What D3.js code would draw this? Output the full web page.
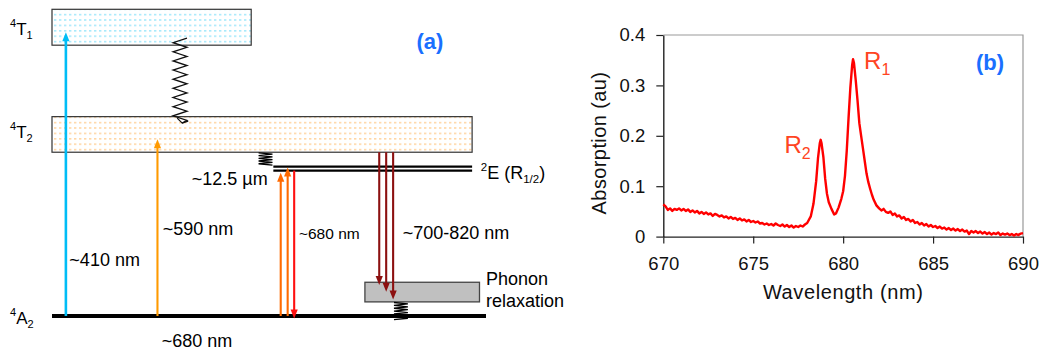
<!DOCTYPE html>
<html><head><meta charset="utf-8">
<script src="https://cdn.jsdelivr.net/npm/d3@7"></script>
<style>body{margin:0;background:#fff}svg{display:block;font-family:"Liberation Sans",Arial,Helvetica,sans-serif}</style>
</head><body><svg id="c" width="1041" height="350"></svg>
<script>
// ===== Panel (b): absorption spectrum =====
const wavelength = [670.000,670.125,670.250,670.375,670.500,670.625,670.750,670.875,671.000,671.125,671.250,671.375,671.500,671.625,671.750,671.875,672.000,672.125,672.250,672.375,672.500,672.625,672.750,672.875,673.000,673.125,673.250,673.375,673.500,673.625,673.750,673.875,674.000,674.125,674.250,674.375,674.500,674.625,674.750,674.875,675.000,675.125,675.250,675.375,675.500,675.625,675.750,675.875,676.000,676.125,676.250,676.375,676.500,676.625,676.750,676.875,677.000,677.125,677.250,677.375,677.500,677.625,677.750,677.875,678.000,
678.20,678.35,678.50,678.60,678.70,678.75,678.80,678.90,679.00,679.10,679.20,679.35,679.50,679.60,679.75,679.90,680.00,680.10,680.20,680.30,680.40,680.50,680.55,680.60,680.70,680.80,680.90,681.00,681.10,681.20,681.30,681.40,681.50,681.60,681.70,681.85,682.00,
682.125,682.250,682.375,682.500,682.625,682.750,682.875,683.000,683.125,683.250,683.375,683.500,683.625,683.750,683.875,684.000,684.125,684.250,684.375,684.500,684.625,684.750,684.875,685.000,685.125,685.250,685.375,685.500,685.625,685.750,685.875,686.000,686.125,686.250,686.375,686.500,686.625,686.750,686.875,687.000,687.125,687.250,687.375,687.500,687.625,687.750,687.875,688.000,688.125,688.250,688.375,688.500,688.625,688.750,688.875,689.000,689.125,689.250,689.375,689.500,689.625,689.750,689.875,690.000];
const absorption = [0.064,0.060,0.053,0.056,0.051,0.055,0.053,0.056,0.052,0.055,0.051,0.054,0.049,0.052,0.048,0.051,0.046,0.049,0.045,0.048,0.044,0.046,0.041,0.045,0.043,0.040,0.042,0.038,0.040,0.036,0.039,0.035,0.037,0.033,0.036,0.032,0.034,0.030,0.033,0.029,0.031,0.028,0.030,0.026,0.027,0.024,0.026,0.023,0.025,0.022,0.026,0.023,0.021,0.024,0.020,0.023,0.019,0.022,0.018,0.021,0.019,0.022,0.020,0.024,0.027,
0.040,0.065,0.110,0.155,0.185,0.192,0.185,0.158,0.115,0.085,0.068,0.055,0.044,0.046,0.058,0.075,0.090,0.120,0.170,0.235,0.295,0.340,0.352,0.345,0.310,0.270,0.225,0.200,0.175,0.150,0.125,0.108,0.095,0.083,0.073,0.062,0.056,
0.052,0.055,0.049,0.047,0.050,0.043,0.046,0.040,0.042,0.036,0.039,0.033,0.035,0.030,0.033,0.027,0.029,0.024,0.027,0.022,0.025,0.020,0.023,0.019,0.021,0.017,0.020,0.016,0.018,0.014,0.017,0.013,0.016,0.012,0.015,0.011,0.014,0.010,0.012,0.005,0.011,0.008,0.011,0.007,0.010,0.006,0.009,0.005,0.008,0.004,0.007,0.005,0.008,0.003,0.006,0.004,0.006,0.003,0.005,0.002,0.005,0.003,0.006,0.007];
const xTicks = [670,675,680,685,690];
const xTickLabels = ["670","675","680","685","690"];
const yTicks = [0,0.1,0.2,0.3,0.4];
const yTickLabels = ["0","0.1","0.2","0.3","0.4"];
const peakLabels = ["R","R"];
const peakSubs = ["1","2"];
const peakWl = [680.55,678.75];
const peakVal = [0.352,0.192];

// ===== Panel (a): energy level diagram (diagram units 0..100) =====
const bandNames = ["T","T"];
const bandSubs = ["1","2"];
const bandLow = [88.3,53.4];
const bandHigh = [100,65.0];
const bandRight = [45.9,96.8];
const groundEnergy = 0;
const eLevels = [48.7,47.4];       // 2E (R1/2) doublet
const eLeft = 51.0, eRight = 96.8;
const arrowX    = [3.2, 24.3, 52.7, 54.3, 55.8, 75.4, 77.0, 78.6];
const arrowFrom = [0,   0,    0,    0,    47.4, 53.4, 53.4, 53.4];
const arrowTo   = [92.5,57.6, 46.7, 48.4, -0.8, 10.1, 7.9,  5.4];
const arrowColor= ["#00bdf6","#ff9a00","#ff6a00","#ff6a00","#ff1010","#8c1010","#8c1010","#8c1010"];
const phononX = [72.1,98.5];
const phononE = [4.6,11.0];

const svg = d3.select("#c");
const FONT = '"Liberation Sans",Arial,Helvetica,sans-serif';

// ---------- Panel (a) ----------
const xa = d3.scaleLinear().domain([0,100]).range([52,486]);
const ya = d3.scaleLinear().domain([0,100]).range([316,9.3]);

const defs = svg.append("defs");
function dotPattern(id, color){
  const p = defs.append("pattern").attr("id",id).attr("patternUnits","userSpaceOnUse")
    .attr("width",5).attr("height",5.4).attr("x",54).attr("y",3);
  p.append("rect").attr("x",0).attr("y",0).attr("width",2.4).attr("height",1.6).attr("fill",color);
}
dotPattern("dotBlue","#a9e9fb");
dotPattern("dotOrange","#ffd7a6");
const bandFill = ["url(#dotBlue)","url(#dotOrange)"];

const ga = svg.append("g");
ga.selectAll("rect.band").data(bandNames).join("rect").attr("class","band")
  .attr("x",xa(0)).attr("y",(d,i)=>ya(bandHigh[i]))
  .attr("width",(d,i)=>xa(bandRight[i])-xa(0))
  .attr("height",(d,i)=>ya(bandLow[i])-ya(bandHigh[i]))
  .attr("fill",(d,i)=>bandFill[i]).attr("stroke","#333").attr("stroke-width",1.2);

// phonon box
ga.append("rect").attr("x",xa(phononX[0])).attr("y",ya(phononE[1])).attr("width",xa(phononX[1])-xa(phononX[0]))
  .attr("height",ya(phononE[0])-ya(phononE[1])).attr("fill","#c0c0c0").attr("stroke","#444").attr("stroke-width",1.3);

// 2E doublet
ga.selectAll("line.e").data(eLevels).join("line").attr("class","e")
  .attr("x1",xa(eLeft)).attr("x2",xa(eRight)).attr("y1",d=>ya(d)).attr("y2",d=>ya(d))
  .attr("stroke","#000").attr("stroke-width",2.2);

// ground state
ga.append("line").attr("x1",xa(0)).attr("x2",xa(100)).attr("y1",ya(groundEnergy)).attr("y2",ya(groundEnergy))
  .attr("stroke","#000").attr("stroke-width",4.2);

// arrows
function arrow(x, yFrom, yTo, color, w){
  const dir = yTo < yFrom ? -1 : 1;
  const hl = 9, hw = 3.6;
  ga.append("line").attr("x1",x).attr("x2",x).attr("y1",yFrom).attr("y2",yTo - dir*hl*0.8)
    .attr("stroke",color).attr("stroke-width",w);
  ga.append("path").attr("d",`M${x},${yTo} L${x-hw},${yTo-dir*hl} L${x+hw},${yTo-dir*hl} Z`).attr("fill",color);
}
arrowX.forEach((ax,i)=>{
  arrow(xa(ax), ya(arrowFrom[i]), ya(arrowTo[i]), arrowColor[i], i===0?2.6:2.1);
});

// big zigzag (non-radiative decay T1 -> T2)
(function(){
  const xl = xa(27.9), xr = xa(31.1);
  const yTop = ya(90.6), yBot = ya(63.8);
  const n = 18; const pts = [[xr,yTop]];
  for(let k=1;k<=n;k++){ pts.push([k%2? xl : xr, yTop + (yBot-yTop)*k/n]); }
  pts.push([xa(30.0), ya(62.9)]);
  ga.append("path").attr("d",d3.line()(pts)).attr("fill","none").attr("stroke","#111").attr("stroke-width",1.3);
  const tx = xa(30.0), ty = ya(62.9);
  ga.append("path").attr("d",`M${tx-5},${ty-5} L${tx},${ty} L${tx+6},${ty-2}`).attr("fill","none").attr("stroke","#111").attr("stroke-width",1.3);
})();

// small coil springs
function coil(x0u, x1u, eTop, eBot, n, w){
  const xl = xa(x0u), xr = xa(x1u), yT = ya(eTop), yB = ya(eBot);
  const pts = [];
  for(let k=0;k<=n;k++){ pts.push([k%2? xr : xl, yT + (yB-yT)*k/n]); }
  ga.append("path").attr("d",d3.line()(pts)).attr("fill","none").attr("stroke","#000").attr("stroke-width",w);
}
coil(47.6, 50.8, 53.2, 49.2, 9, 1.3);
coil(78.8, 82.0, 4.4, -1.2, 12, 1.3);

// labels (a)
function levelLabel(x, yBase, sup, main, sub){
  const t = ga.append("text").attr("x",x).attr("y",yBase).attr("font-size",17).attr("fill","#000");
  t.append("tspan").attr("font-size",11).attr("dy",-8).text(sup);
  t.append("tspan").attr("dy",8).text(main);
  t.append("tspan").attr("font-size",11).attr("dy",4).text(sub);
}
levelLabel(10, ya(bandHigh[0]) + 25.5, "4", bandNames[0], bandSubs[0]);
levelLabel(10, ya(bandHigh[1]) + 21, "4", bandNames[1], bandSubs[1]);
levelLabel(10, ya(groundEnergy) + 8, "4", "A", "2");

function label(x, y, txt, size){
  ga.append("text").attr("x",x).attr("y",y).attr("dominant-baseline","central").attr("font-size",size||18).attr("fill","#000").text(txt);
}
label(xa(4.0), 260, "~410 nm");
label(xa(25.5), 228.5, "~590 nm");
label(xa(25.3), 341, "~680 nm");
label(xa(32.2), 178.5, "~12.5 \u00b5m");
label(xa(56.9), 233, "~680 nm", 15.5);
label(xa(80.8), 233, "~700-820 nm");
label(xa(100), 278.5, "Phonon");
label(xa(100), 300.5, "relaxation");
(function(){
  const t = ga.append("text").attr("x",xa(98.8)).attr("y",179).attr("font-size",18).attr("fill","#000");
  t.append("tspan").attr("font-size",11.5).attr("dy",-8).text("2");
  t.append("tspan").attr("dy",8).text("E (R");
  t.append("tspan").attr("font-size",11.5).attr("dy",4).text("1/2");
  t.append("tspan").attr("dy",-4).text(")");
})();
ga.append("text").attr("x",430).attr("y",49).attr("text-anchor","middle").attr("font-size",22)
  .attr("font-weight","bold").attr("fill","#1a6fff").text("(a)");

// ---------- Panel (b) ----------
const xb = d3.scaleLinear().domain([670,690]).range([663.3,1023]);
const yb = d3.scaleLinear().domain([0,0.4]).range([236.6,35]);
const gb = svg.append("g");

gb.append("path").attr("d",`M${xb(670)},${yb(0.4)} H${xb(690)} V${yb(0)}`).attr("fill","none").attr("stroke","#999").attr("stroke-width",1.2);

const yAxis = d3.axisLeft(yb).tickValues(yTicks).tickFormat((d,i)=>yTickLabels[i]).tickSize(7).tickSizeOuter(0).tickPadding(11);
const xAxis = d3.axisBottom(xb).tickValues(xTicks).tickFormat((d,i)=>xTickLabels[i]).tickSize(7).tickSizeOuter(0).tickPadding(13);
const gy = gb.append("g").attr("transform",`translate(${xb(670)},0)`).call(yAxis);
const gx = gb.append("g").attr("transform",`translate(0,${yb(0)})`).call(xAxis);
[gx,gy].forEach(g=>{
  g.select(".domain").attr("stroke","#222").attr("stroke-width",1.4);
  g.selectAll(".tick line").attr("stroke","#222").attr("stroke-width",1.2);
  g.selectAll(".tick text").attr("font-family",FONT).attr("font-size",18.5).attr("fill","#111");
});

gb.append("path").datum(wavelength)
  .attr("d",d3.line().x(d=>xb(d)).y((d,i)=>yb(absorption[i])))
  .attr("fill","none").attr("stroke","#ff0000").attr("stroke-width",2.4).attr("stroke-linejoin","round");

peakLabels.forEach((p,i)=>{
  const t = gb.append("text").attr("fill","#ff4422").attr("font-size",24);
  if(i===0){ t.attr("x",xb(peakWl[i])+11).attr("y",yb(peakVal[i])+10); }
  else { t.attr("x",xb(peakWl[i])-10).attr("y",yb(peakVal[i])+13).attr("text-anchor","end"); }
  t.append("tspan").text(p);
  t.append("tspan").attr("font-size",16).attr("dy",6).text(peakSubs[i]);
});

gb.append("text").attr("x",xb(680)).attr("y",299).attr("text-anchor","middle").attr("font-size",20)
  .attr("letter-spacing",0.6).attr("fill","#111").text("Wavelength (nm)");
gb.append("text").attr("transform","translate(606,143) rotate(-90)").attr("text-anchor","middle")
  .attr("font-size",20).attr("letter-spacing",0.4).attr("fill","#111").text("Absorption (au)");
gb.append("text").attr("x",990).attr("y",70).attr("text-anchor","middle").attr("font-size",22)
  .attr("font-weight","bold").attr("fill","#1a6fff").text("(b)");
</script></body></html>
